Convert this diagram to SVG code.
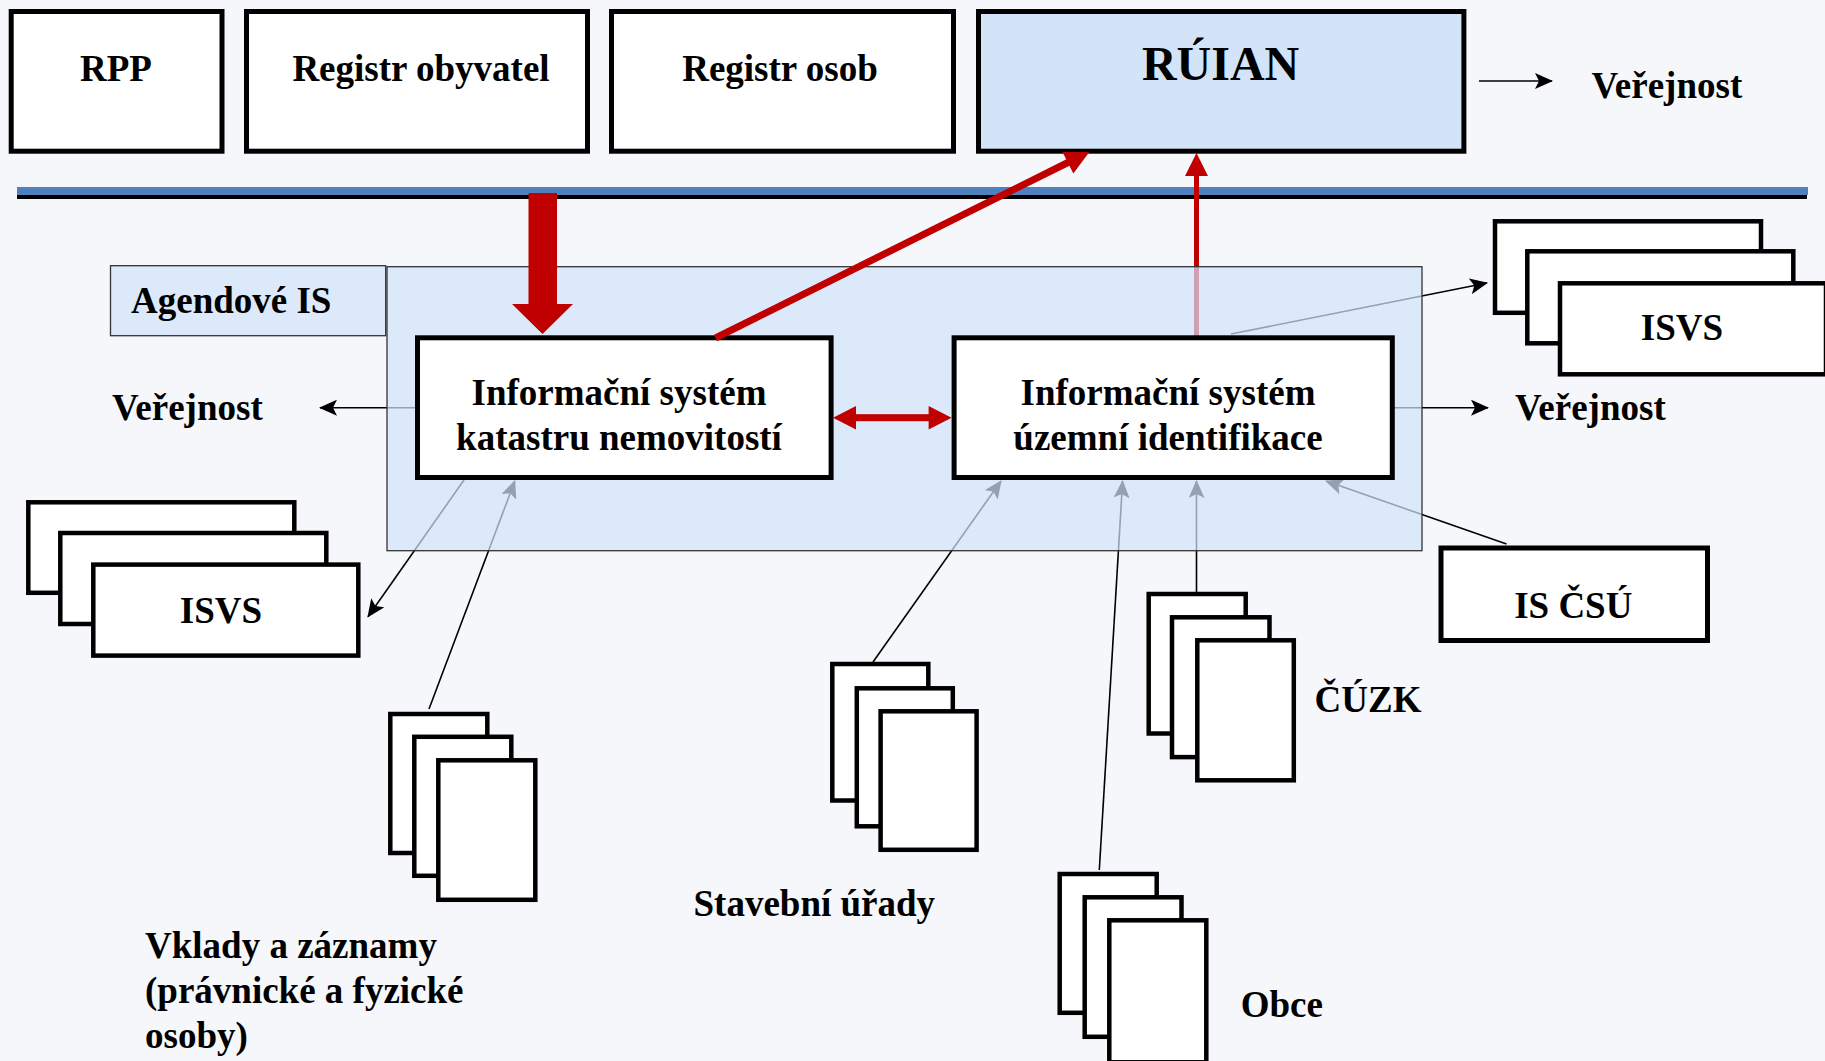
<svg xmlns="http://www.w3.org/2000/svg" width="1825" height="1061" viewBox="0 0 1825 1061">
<style>
text{font-family:"Liberation Serif","Times New Roman",serif;font-weight:bold;font-size:37px;fill:#000}
.box{fill:#fff;stroke:#000;stroke-width:5}
.stk{fill:#fff;stroke:#000;stroke-width:4.5}
.blue{fill:#d3e4f8;stroke:#000;stroke-width:5}
.cont{fill:#d2e3f9;fill-opacity:0.71;stroke:#333;stroke-width:1.3}
.thin{stroke:#000;stroke-width:1.6;fill:none}
.red{fill:#c00000}
.redl{stroke:#c00000;fill:none}
.c{text-anchor:middle}
</style>
<defs>
<marker id="ah" markerUnits="userSpaceOnUse" markerWidth="18" markerHeight="16" viewBox="0 0 18 16" refX="17" refY="8" orient="auto">
<path d="M0,0 L18,8 L0,16 L4,8 z" fill="#000"/>
</marker>
</defs>
<rect x="0" y="0" width="1825" height="1061" fill="#f5f7fa"/>

<!-- bus line -->
<g id="bus">
<rect x="17" y="187" width="1791" height="8" fill="#4f81bd"/>
<rect x="17" y="195" width="1790" height="4" fill="#000"/>
</g>

<!-- connectors drawn beneath the translucent Agendové IS container -->
<g id="connectors-under">
<line class="redl" x1="1196.5" y1="336" x2="1196.5" y2="174" stroke-width="5"/>
<polygon class="red" points="1196.5,153 1185,176 1208,176"/>
<line class="thin" x1="1231" y1="334" x2="1487" y2="283" marker-end="url(#ah)"/>
<line class="thin" x1="415" y1="407.7" x2="320" y2="407.7" marker-end="url(#ah)"/>
<line class="thin" x1="1394" y1="407.7" x2="1488" y2="407.7" marker-end="url(#ah)"/>
<line class="thin" x1="464" y1="480" x2="368" y2="616.7" marker-end="url(#ah)"/>
<line class="thin" x1="429" y1="709" x2="514.8" y2="481" marker-end="url(#ah)"/>
<line class="thin" x1="873" y1="662" x2="1001" y2="481" marker-end="url(#ah)"/>
<line class="thin" x1="1099.3" y1="870" x2="1122.6" y2="481" marker-end="url(#ah)"/>
<line class="thin" x1="1196.5" y1="592" x2="1196.5" y2="481" marker-end="url(#ah)"/>
<line class="thin" x1="1506.5" y1="544" x2="1326" y2="481" marker-end="url(#ah)"/>
</g>

<g id="agendove-is">
<rect class="cont" x="387" y="266.7" width="1035" height="284"/>
<rect class="cont" x="110.5" y="265.7" width="275.2" height="70"/>
<text x="131" y="312.5">Agendové IS</text>
</g>

<g id="rpp">
<rect class="box" x="11.2" y="11.5" width="210.8" height="139.7"/>
<text class="c" x="116" y="80.5">RPP</text>
</g>
<g id="registr-obyvatel">
<rect class="box" x="246.5" y="11.5" width="341" height="139.7"/>
<text class="c" x="421" y="80.5">Registr obyvatel</text>
</g>
<g id="registr-osob">
<rect class="box" x="611.5" y="11.5" width="342" height="139.7"/>
<text class="c" x="780" y="80.5">Registr osob</text>
</g>
<g id="ruian">
<rect class="blue" x="978.5" y="11.5" width="485.4" height="139.7"/>
<text class="c" x="1220.6" y="79.5" style="font-size:48px">RÚIAN</text>
</g>
<g id="verejnost-top">
<text x="1591.5" y="97.5">Veřejnost</text>
</g>

<g id="is-katastru">
<rect class="box" x="417.5" y="337.8" width="413.6" height="139.7"/>
<text class="c" x="619" y="404.5">Informační systém</text>
<text class="c" x="619" y="450">katastru nemovitostí</text>
</g>
<g id="is-uzemni">
<rect class="box" x="954.1" y="337.8" width="438.2" height="139.7"/>
<text class="c" x="1168" y="404.5">Informační systém</text>
<text class="c" x="1168" y="450">územní identifikace</text>
</g>

<g id="verejnost-left">
<text x="112" y="420">Veřejnost</text>
</g>
<g id="verejnost-right">
<text x="1515" y="420">Veřejnost</text>
</g>

<g id="isvs-right">
<rect class="stk" x="1495" y="221.3" width="266" height="91.5"/>
<rect class="stk" x="1527.3" y="251.3" width="266" height="92"/>
<rect class="stk" x="1560" y="283.3" width="266" height="91"/>
<text class="c" x="1682" y="339.5">ISVS</text>
</g>
<g id="isvs-left">
<rect class="stk" x="28.3" y="502.3" width="266" height="90.5"/>
<rect class="stk" x="60.3" y="533" width="266" height="91"/>
<rect class="stk" x="93.3" y="564.6" width="265" height="91"/>
<text class="c" x="221" y="622.5">ISVS</text>
</g>
<g id="is-csu">
<rect class="box" x="1441" y="548" width="266.5" height="92.5"/>
<text class="c" x="1573.3" y="618">IS ČSÚ</text>
</g>
<g id="vklady">
<rect class="stk" x="390.3" y="714" width="97" height="139"/>
<rect class="stk" x="414.3" y="736.8" width="97" height="139"/>
<rect class="stk" x="438.3" y="760.3" width="97" height="139.5"/>
<text x="145" y="958">Vklady a záznamy</text>
<text x="145" y="1003">(právnické a fyzické</text>
<text x="145" y="1048">osoby)</text>
</g>
<g id="stavebni-urady">
<rect class="stk" x="832.3" y="664" width="96" height="136.5"/>
<rect class="stk" x="856.8" y="688.3" width="96" height="138"/>
<rect class="stk" x="880.6" y="711.3" width="96" height="138.5"/>
<text x="693.5" y="916">Stavební úřady</text>
</g>
<g id="cuzk">
<rect class="stk" x="1148.7" y="594" width="97" height="139.5"/>
<rect class="stk" x="1172" y="617.3" width="97.5" height="139.8"/>
<rect class="stk" x="1197.3" y="640.3" width="96.5" height="140"/>
<text x="1314.6" y="712">ČÚZK</text>
</g>
<g id="obce">
<rect class="stk" x="1059.7" y="874" width="97" height="138.8"/>
<rect class="stk" x="1084.7" y="897.3" width="96.8" height="139.5"/>
<rect class="stk" x="1109.3" y="920.3" width="97" height="142"/>
<text x="1240.7" y="1017">Obce</text>
</g>

<g id="connectors">
<line class="thin" x1="1479" y1="81" x2="1552" y2="81" marker-end="url(#ah)"/>
<polygon class="red" points="528.5,193 557,193 557,304 573,304 542.5,334 512,304 528.5,304"/>
<line class="redl" x1="715.5" y1="338" x2="1069" y2="162" stroke-width="7"/>
<polygon class="red" points="1089.4,152 1073.3,173.4 1062.5,152"/>
<rect class="red" x="854" y="414.2" width="76" height="7"/>
<polygon class="red" points="833,417.7 856,406 856,429.4"/>
<polygon class="red" points="951.6,417.7 928.6,406 928.6,429.4"/>
</g>
</svg>
